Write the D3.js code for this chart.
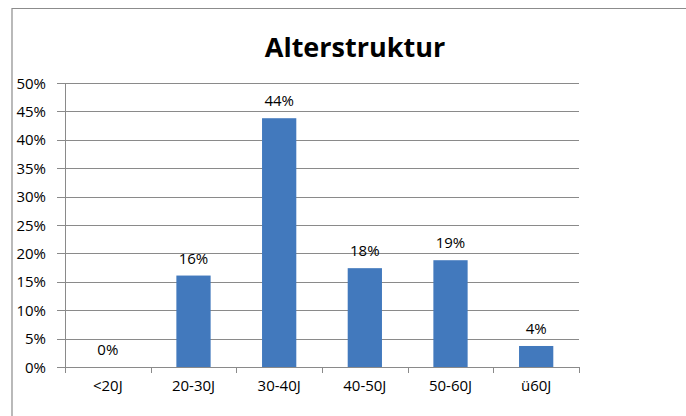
<!DOCTYPE html>
<html>
<head>
<meta charset="utf-8">
<script src="https://cdn.jsdelivr.net/npm/d3@7"></script>
<style>
  body { margin: 0; background: #fff; }
  text { font-family: "Open Sans", "Noto Sans", sans-serif; }
</style>
</head>
<body>
<svg id="chart" width="686" height="416"></svg>
<script>
const categories = ["<20J", "20-30J", "30-40J", "40-50J", "50-60J", "ü60J"];
const shares = [0, 16.1, 43.8, 17.4, 18.8, 3.7];
const shareLabels = ["0%", "16%", "44%", "18%", "19%", "4%"];
const yTicks = [0, 5, 10, 15, 20, 25, 30, 35, 40, 45, 50];

const svg = d3.select("#chart");
const plotLeft = 65, plotRight = 579, plotTop = 83, plotBottom = 367;

// chart frame (only top and left edges visible)
svg.append("path")
  .attr("d", "M12,416 V8.5 H686")
  .attr("fill", "none")
  .attr("stroke", "#8c8c8c")
  .attr("stroke-width", 1.2);

svg.append("text")
  .attr("x", 355)
  .attr("y", 57)
  .attr("text-anchor", "middle")
  .attr("font-size", 27)
  .attr("font-weight", "bold")
  .attr("fill", "#000")
  .text("Alterstruktur");

const x = d3.scaleBand().domain(categories).range([plotLeft, plotRight]).paddingInner(0.6).paddingOuter(0.3);
const y = d3.scaleLinear().domain([0, 50]).range([plotBottom, plotTop]);

// gridlines
svg.append("g")
  .selectAll("line")
  .data(yTicks)
  .join("line")
  .attr("x1", plotLeft - 8)
  .attr("x2", plotRight)
  .attr("y1", (d) => Math.round(y(d)) + 0.5)
  .attr("y2", (d) => Math.round(y(d)) + 0.5)
  .attr("stroke", "#8a8a8a")
  .attr("stroke-width", 1);

// y labels
svg.append("g")
  .selectAll("text")
  .data(yTicks)
  .join("text")
  .attr("x", 46)
  .attr("y", (d) => y(d) + 5.5)
  .attr("text-anchor", "end")
  .attr("font-size", 15)
  .attr("fill", "#000")
  .text((d) => d + "%");

// y axis line
svg.append("line")
  .attr("x1", plotLeft + 0.5).attr("x2", plotLeft + 0.5)
  .attr("y1", plotTop).attr("y2", plotBottom)
  .attr("stroke", "#8a8a8a");

// x axis ticks
const band = (plotRight - plotLeft) / categories.length;
svg.append("g")
  .selectAll("line")
  .data(d3.range(categories.length + 1))
  .join("line")
  .attr("x1", (i) => Math.round(plotLeft + i * band) + 0.5)
  .attr("x2", (i) => Math.round(plotLeft + i * band) + 0.5)
  .attr("y1", plotBottom)
  .attr("y2", plotBottom + 6)
  .attr("stroke", "#8a8a8a");

// bars
svg.append("g")
  .selectAll("rect")
  .data(shares)
  .join("rect")
  .attr("x", (d, i) => x(categories[i]))
  .attr("width", x.bandwidth())
  .attr("y", (d) => y(d))
  .attr("height", (d) => plotBottom - y(d))
  .attr("fill", "#4279bd");

// value labels
svg.append("g")
  .selectAll("text")
  .data(shares)
  .join("text")
  .attr("x", (d, i) => x(categories[i]) + x.bandwidth() / 2)
  .attr("y", (d) => y(d) - 12)
  .attr("text-anchor", "middle")
  .attr("font-size", 15)
  .attr("fill", "#000")
  .text((d, i) => shareLabels[i]);

// category labels
svg.append("g")
  .selectAll("text")
  .data(categories)
  .join("text")
  .attr("x", (d) => x(d) + x.bandwidth() / 2)
  .attr("y", 391)
  .attr("text-anchor", "middle")
  .attr("font-size", 15)
  .attr("fill", "#000")
  .text((d) => d);
</script>
</body>
</html>
